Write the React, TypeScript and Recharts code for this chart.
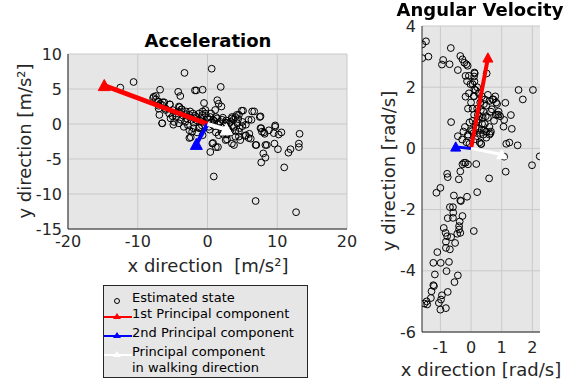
import { ScatterChart, Scatter, XAxis, YAxis, CartesianGrid } from "recharts";

// estimated states, acceleration [m/s²]
const accelPoints: [number, number][] = [
  [-3.3, 7.3], [0.6, 7.9], [-10.6, 6.0], [-12.5, 5.2], [-6.8, 4.9], [-4.2, 4.6], [-3.9, 4.0],
  [-1.8, 4.8], [-1.6, 4.8], [-0.7, 4.9], [1.9, 5.3], [-0.5, 3.0], [1.4, 3.4], [1.6, 2.9],
  [2.0, 2.5], [1.1, 2.0], [5.1, 1.9], [6.7, 1.8], [7.6, 1.1], [6.3, 0.6], [-7.4, 4.0],
  [-7.8, 3.7], [-7.1, 3.2], [-6.8, 2.9], [-6.4, 3.1], [-5.4, 2.8], [-7.0, 2.2], [-6.9, 1.3],
  [-6.5, 0.1], [-4.9, -0.1], [-4.0, 2.4], [-3.7, 2.1], [7.7, -0.6], [8.1, -1.2], [8.2, -1.4],
  [6.0, -1.4], [6.2, -2.1], [7.0, -3.0], [8.5, -3.0], [8.0, -4.2], [8.3, -4.8], [7.7, -5.5],
  [9.7, -0.2], [9.7, -0.4], [10.2, -1.5], [10.6, -1.2], [9.6, -2.8], [10.1, -3.6],
  [13.2, -1.4], [13.1, -2.8], [13.1, -3.3], [11.6, -4.1], [11.9, -3.6], [11.0, -6.2],
  [6.9, -11.0], [12.7, -12.6], [0.9, -7.5], [0.4, -4.0], [0.8, -2.7], [1.5, -3.3],
  [-2.4, -1.9], [3.8, -3.0], [4.5, -1.8], [5.4, -1.7], [2.8, -2.2], [4.6, -0.6], [5.0, -0.3],
  [3.5, 1.0], [3.7, 0.6], [2.2, 0.9], [2.7, 0.5], [4.2, 1.3], [4.4, 0.7],
  [-7.7, 3.9], [-7.4, 3.5], [-7.0, 3.2], [-6.2, 3.1], [-5.4, 2.8], [-6.5, 2.7], [-6.0, 2.2],
  [-5.0, 2.0], [-4.5, 1.5], [-4.1, 2.5], [-3.7, 2.1], [-3.1, 1.8], [-2.6, 1.3], [-1.9, 0.8],
  [-1.2, 1.5], [-0.7, 1.8], [-0.3, 2.0], [0.5, 1.5], [1.2, 1.0], [-5.3, 0.8], [-4.8, 0.3],
  [-6.5, 0.1], [-4.1, 0.1], [-3.4, -0.4], [-2.6, -0.9], [-2.2, -1.1], [-1.2, -0.6], [0.2, -0.4],
  [-2.6, -2.0], [-0.7, -1.6], [4.9, 1.9], [4.5, 1.3], [4.0, 1.0], [3.5, 0.8], [3.3, 0.3],
  [6.4, 1.8], [7.5, 1.0], [5.9, 0.6], [5.0, 0.3], [5.5, -0.1], [4.3, 0.1], [3.8, -0.4],
  [2.8, -0.6], [4.5, -1.1], [5.5, -1.6], [5.9, -2.0], [4.0, -1.8], [4.7, -2.3], [7.6, -0.6],
  [7.8, -1.1], [8.8, -0.9], [9.5, -1.3], [6.9, -3.0], [8.3, -3.0], [0.7, -2.8], [1.2, -3.3],
  [3.5, -2.8], [2.6, -2.3], [1.6, -1.6], [0.2, 0.6], [0.7, -0.1], [-0.3, 1.5], [-0.7, 1.3],
  [1.4, 0.8], [2.1, 0.6], [-1.5, 0.5], [-2.0, 0.2], [-1.0, 0.8], [-0.5, 0.3], [0.5, 0.2],
  [1.0, -0.3], [1.5, 0.0], [2.0, -0.5], [2.5, -0.2], [3.0, -0.8], [-3.0, 0.8], [-3.5, 1.2],
  [-2.5, 1.8], [-1.8, 1.2], [-0.8, -0.2], [0.3, -0.8], [1.2, -1.2], [2.2, -1.4], [2.8, -1.5],
  [-2.8, -0.2], [-4.5, 1.0], [-5.5, 1.5], [-6.0, 2.0], [-7.0, 2.6], [-3.8, 0.6], [-1.2, -0.5],
  [0.8, 0.6], [1.8, 0.3], [2.6, 0.2], [3.5, -0.3], [4.0, -1.0], [-1.5, -1.2], [-2.0, -0.6],
  [-3.2, 0.3], [-2.3, 0.6], [-1.6, 1.0], [-0.9, 0.4], [0.0, 0.9], [0.4, 1.0], [1.0, 0.4],
  [-4.2, 1.8], [-5.0, 1.1], [-3.0, 1.4], [-2.1, 1.5], [3.1, 0.1], [3.3, -1.2], [2.0, -1.0],
];

// estimated states, angular velocity [rad/s]
const gyroPoints: [number, number][] = [
  [-1.59, 3.4], [-1.47, 3.5], [-1.59, 2.95], [-1.39, 3.0], [-0.66, 3.28], [-0.91, 2.89],
  [-0.95, 2.74], [-0.7, 2.75], [-0.35, 3.02], [-0.28, 2.91], [-0.22, 2.8], [-0.15, 2.75],
  [-0.11, 2.7], [-0.43, 2.56], [-0.18, 2.37], [-0.07, 2.37], [0.11, 2.48], [0.11, 2.19],
  [0.51, 2.45], [-0.13, 2.2], [-0.02, 2.1], [-0.07, 1.8], [-0.18, 1.69], [0.11, 1.93],
  [0.09, 1.71], [1.55, 1.91], [2.02, 1.91], [1.69, 1.6], [1.12, 1.49], [1.3, 1.09],
  [1.08, 0.93], [1.06, 0.71], [1.33, 0.64], [1.25, 0.19], [1.15, 0.15], [1.52, 0.1],
  [0.79, 1.7], [0.73, 1.6], [0.82, 1.5], [0.68, 1.28], [0.85, 1.1], [0.9, 1.1],
  [-0.65, 0.86], [-0.43, 0.4], [-0.29, 0.29], [-0.1, 0.45], [0.03, 0.56], [0.63, 0.49],
  [0.33, 0.14], [1.08, -0.27], [1.99, -0.55], [2.24, -0.26], [1.13, -0.76], [0.59, -0.98],
  [0.17, -0.51], [0.2, -1.43], [-0.1, -0.52], [-0.18, -0.47], [-0.23, -0.47], [-0.28, -0.52],
  [-0.35, -0.75], [-0.4, -1.01], [-0.78, -0.83], [-0.76, -0.94], [-1.0, -1.29], [-1.13, -1.45],
  [-0.56, -1.54], [-0.35, -1.7], [-0.33, -1.72], [-0.13, -1.58], [-0.69, -1.92], [-0.59, -1.92],
  [-0.58, -2.1], [-0.59, -2.27], [-0.76, -2.28], [-0.28, -2.21], [-0.37, -2.39], [-0.39, -2.54],
  [-0.39, -2.65], [-0.35, -2.76], [-0.89, -2.6], [-0.83, -2.76], [-0.78, -2.87], [-0.65, -2.9],
  [0.09, -2.7], [-0.45, -2.79], [-0.52, -3.09], [-0.82, -3.05], [-0.82, -3.25], [-0.69, -3.3],
  [-1.1, -3.39], [-1.23, -3.74], [-0.99, -3.74], [-0.72, -3.71], [-1.18, -4.12], [-0.43, -4.15],
  [-0.8, -4.01], [-0.54, -4.37], [-1.23, -4.47], [-1.21, -4.5], [-1.29, -4.67], [-1.31, -4.89],
  [-0.95, -4.8], [-0.98, -4.94], [-0.76, -4.69], [-1.45, -5.0], [-1.43, -5.1], [-1.05, -5.05],
  [-1.0, -5.27], [-0.82, -5.22], [-1.52, -5.07],
  [0.05, 0.9], [0.1, 1.1], [0.15, 0.7], [0.2, 1.3], [0.25, 0.95], [0.3, 1.5], [0.35, 0.6],
  [0.4, 1.2], [0.45, 0.8], [0.5, 1.4], [0.55, 1.0], [0.6, 0.7], [0.65, 1.2], [0.7, 1.6],
  [0.75, 0.9], [0.2, 0.4], [0.3, 0.5], [0.4, 0.45], [0.5, 0.55], [0.6, 0.45], [0.28, 0.2],
  [0.33, 0.15], [0.0, 0.6], [-0.05, 0.85], [-0.1, 0.4], [-0.15, 0.2], [-0.05, 0.15],
  [0.1, 1.7], [0.15, 1.9], [0.05, 2.1], [0.2, 2.0], [0.25, 1.8], [0.35, 1.7], [0.45, 1.6],
  [0.55, 1.75], [0.6, 1.55], [0.85, 1.45], [0.9, 1.2], [0.95, 1.05], [0.8, 1.1], [0.65, 0.55],
  [0.5, 0.35], [0.42, 0.6], [0.38, 1.0], [0.28, 1.05], [0.18, 0.85], [0.08, 0.5], [-0.2, 0.7],
  [-0.25, 0.55], [-0.1, 1.3], [0.0, 1.5], [0.05, 1.3], [0.1, 2.35], [0.12, 2.45], [0.22, 1.1],
  [0.32, 1.25], [0.42, 1.45], [0.48, 1.05], [0.36, 0.8], [0.26, 0.65], [0.14, 0.3],
];

// principal component tips (arrows start at the origin)
const accelPc1: [number, number] = [-14.8, 5.5];
const accelPc2: [number, number] = [-1.6, -2.9];
const accelWalk: [number, number] = [2.7, -0.8];
const gyroPc1: [number, number] = [0.55, 2.96];
const gyroPc2: [number, number] = [-0.5, 0.05];
const gyroWalk: [number, number] = [1.0, -0.2];

const accelXTicks = [-20, -10, 0, 10, 20];
const accelYTicks = [-15, -10, -5, 0, 5, 10];
const gyroXTicks = [-1, 0, 1, 2];
const gyroYTicks = [-6, -4, -2, 0, 2, 4];

const legendItems = [
  "Estimated state",
  "1st Principal component",
  "2nd Principal component",
  "Principal component\nin walking direction",
];

const FONT = "'DejaVu Sans', sans-serif";
const INK = "#262626";
const BG = "#e6e6e6";
const GRID = "#c9c9c9";

const toPts = (arr: [number, number][]) => arr.map(([x, y]) => ({ x, y }));
const arrow = (tip: [number, number]) => [
  { x: 0, y: 0, tip: false },
  { x: tip[0], y: tip[1], tip: true },
];

const Circle = (p: any) => (
  <circle cx={p.cx} cy={p.cy} r={3.4} fill="none" stroke="#000" strokeWidth={1} />
);

const headShape = (color: string, s: number) => (p: any) =>
  p.payload && p.payload.tip ? (
    <polygon
      points={`${p.cx},${p.cy - s} ${p.cx - s},${p.cy + s * 0.85} ${p.cx + s},${p.cy + s * 0.85}`}
      fill={color}
      stroke={color}
    />
  ) : (
    <g />
  );

const tickStyle = { fill: INK, fontSize: 16, fontFamily: FONT };

function Panel(props: {
  left: number;
  width: number;
  height: number;
  margin: { top: number; right: number; bottom: number; left: number };
  points: [number, number][];
  pc1: [number, number];
  pc2: [number, number];
  walk: [number, number];
  xDomain: [number, number];
  yDomain: [number, number];
  xTicks: number[];
  yTicks: number[];
  xTickMargin: number;
  lw: number;
  head: number;
}) {
  const arrows: [string, [number, number], number][] = [
    ["#ff0000", props.pc1, props.lw],
    ["#0000ff", props.pc2, props.lw - 1],
    ["#ffffff", props.walk, props.lw - 1],
  ];
  return (
    <div style={{ position: "absolute", left: props.left, top: 0 }}>
      <ScatterChart width={props.width} height={props.height} margin={props.margin}>
        <CartesianGrid fill={BG} stroke={GRID} horizontalValues={props.yTicks} verticalValues={props.xTicks} />
        <XAxis
          type="number"
          dataKey="x"
          domain={props.xDomain}
          ticks={props.xTicks}
          height={30}
          stroke={INK}
          tickLine={false}
          tickSize={3}
          tickMargin={props.xTickMargin}
          tick={tickStyle}
          allowDataOverflow
          interval={0}
        />
        <YAxis
          type="number"
          dataKey="y"
          domain={props.yDomain}
          ticks={props.yTicks}
          width={40}
          stroke={INK}
          tickLine={false}
          tickSize={3}
          tickMargin={3}
          tick={tickStyle}
          allowDataOverflow
          interval={0}
        />
        <Scatter data={toPts(props.points)} shape={Circle} isAnimationActive={false} />
        {arrows.map(([color, tip, w]) => (
          <Scatter
            key={color}
            data={arrow(tip)}
            line={{ stroke: color, strokeWidth: w }}
            shape={headShape(color, props.head)}
            isAnimationActive={false}
          />
        ))}
      </ScatterChart>
    </div>
  );
}

const text = (s: any): any => ({
  position: "absolute",
  fontFamily: FONT,
  color: INK,
  whiteSpace: "nowrap",
  lineHeight: 1,
  ...s,
});

function LegendIcon({ i }: { i: number }) {
  const colors = ["", "#ff0000", "#0000ff", "#ffffff"];
  if (i === 0)
    return (
      <svg width={28} height={10}>
        <circle cx={13} cy={5} r={2.5} fill="none" stroke="#000" strokeWidth={1} />
      </svg>
    );
  const c = colors[i];
  return (
    <svg width={28} height={10}>
      <line x1={0} y1={5} x2={28} y2={5} stroke={c} strokeWidth={2} />
      <polygon points="13,1 9,7 17,7" fill={c} />
    </svg>
  );
}

export default function App() {
  return (
    <div style={{ position: "fixed", left: 0, top: 0, width: 580, height: 385, background: "#fff" }}>
      <Panel
        left={0}
        width={360}
        height={260}
        margin={{ top: 54, right: 13, bottom: 1, left: 28 }}
        points={accelPoints}
        pc1={accelPc1}
        pc2={accelPc2}
        walk={accelWalk}
        xDomain={[-20, 20]}
        yDomain={[-15, 10]}
        xTicks={accelXTicks}
        yTicks={accelYTicks}
        xTickMargin={4}
        lw={5}
        head={6}
      />
      <Panel
        left={370}
        width={200}
        height={385}
        margin={{ top: 26, right: 30, bottom: 23, left: 12 }}
        points={gyroPoints}
        pc1={gyroPc1}
        pc2={gyroPc2}
        walk={gyroWalk}
        xDomain={[-1.6, 2.25]}
        yDomain={[-6, 4]}
        xTicks={gyroXTicks}
        yTicks={gyroYTicks}
        xTickMargin={7}
        lw={4}
        head={5}
      />

      <div style={text({ left: 208, top: 32, fontSize: 18, fontWeight: "bold", color: "#000", transform: "translateX(-50%)" })}>
        Acceleration
      </div>
      <div style={text({ left: 480, top: 1, fontSize: 18, fontWeight: "bold", color: "#000", transform: "translateX(-50%)" })}>
        Angular Velocity
      </div>
      <div style={text({ left: 208, top: 257, fontSize: 18, transform: "translateX(-50%)" })}>
        x direction&nbsp;&nbsp;[m/s²]
      </div>
      <div style={text({ left: 25, top: 141, fontSize: 18, transform: "translate(-50%, -50%) rotate(-90deg)" })}>
        y direction [m/s²]
      </div>
      <div style={text({ left: 481, top: 361, fontSize: 18, transform: "translateX(-50%)" })}>
        x direction [rad/s]
      </div>
      <div style={text({ left: 389, top: 171, fontSize: 18, transform: "translate(-50%, -50%) rotate(-90deg)" })}>
        y direction [rad/s]
      </div>

      <div
        style={{
          position: "absolute",
          left: 103,
          top: 285,
          width: 203,
          height: 91,
          background: BG,
          border: `1px solid ${INK}`,
          fontFamily: FONT,
          fontSize: 13,
          color: "#000",
        }}
      >
        {legendItems.map((label, i) => (
          <div
            key={label}
            style={{ position: "absolute", left: 0, top: [6, 22, 41, 60][i], display: "flex", alignItems: "flex-start" }}
          >
            <div style={{ marginTop: 2 }}>
              <LegendIcon i={i} />
            </div>
            <div style={{ whiteSpace: "pre", lineHeight: "16px", marginTop: -2 }}>{label}</div>
          </div>
        ))}
      </div>
    </div>
  );
}
